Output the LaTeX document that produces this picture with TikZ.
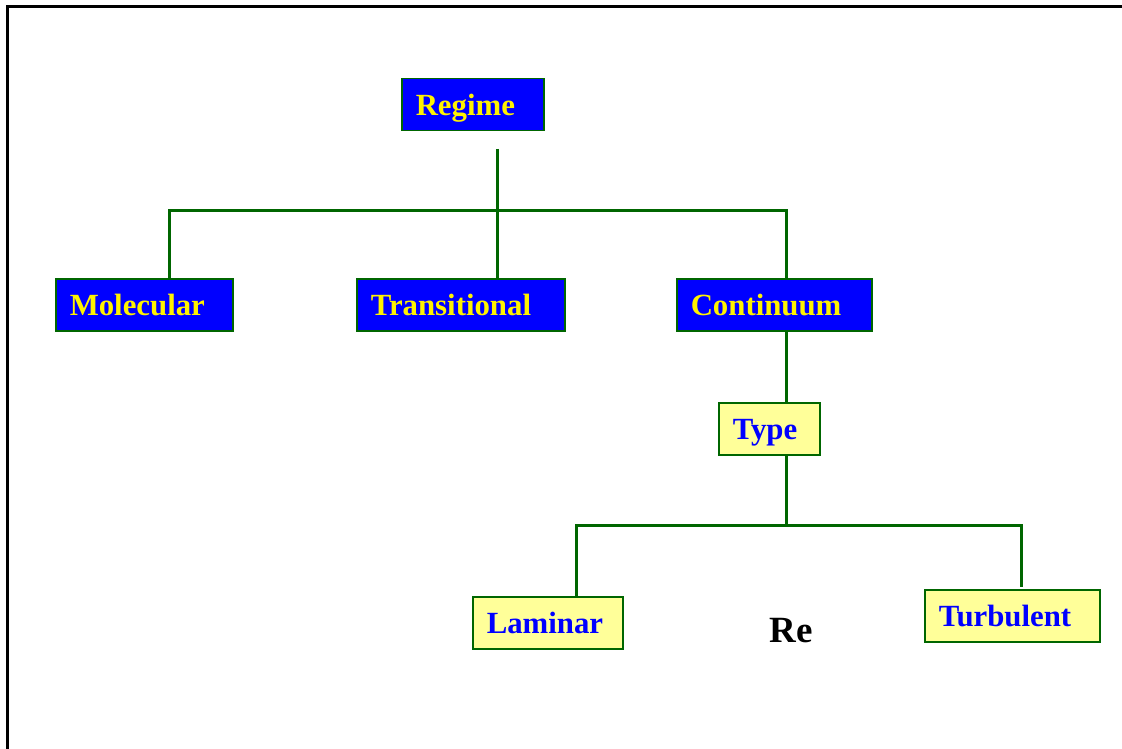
\documentclass[tikz,border=0pt]{standalone}
\usepackage{fontspec}
\setmainfont{Liberation Serif}
\usetikzlibrary{calc}
\definecolor{boxblue}{RGB}{0,0,255}
\definecolor{boxcream}{RGB}{255,255,153}
\definecolor{linegreen}{RGB}{0,102,0}
\tikzset{
	regimebox/.style={draw=linegreen, line width=1.5, fill=boxblue, text=yellow,
		anchor=north west, align=left, inner xsep=14, inner ysep=0,
		minimum height=52, text height=21, text depth=0,
		font=\fontsize{30.8}{36}\selectfont\bfseries},
	typebox/.style={regimebox, fill=boxcream, text=boxblue},
	branch/.style={draw=linegreen, line width=3}
}

\begin{document}
\begin{tikzpicture}[x=1pt, y=-1pt]
			%%%%% START %%%%%
			\useasboundingbox (0,0) rectangle (1122,749);
			\draw[line width=3] (7.5,749) -- (7.5,6.5) -- (1122,6.5);
			
			\node[regimebox, text width=114] (regime) at (401,78) {Regime};
			
			\node[regimebox, text width=149] (molecular) at (55,278) {Molecular};
			\node[regimebox, text width=180] (transitional) at (356,278) {Transitional};
			\node[regimebox, text width=167] (continuum) at (676,278) {Continuum};
			
			\node[typebox, text width=73] (type) at (718,402) {Type};
			
			\node[typebox, text width=122] (laminar) at (472,596) {Laminar};
			\node[typebox, text width=147] (turbulent) at (924,589) {Turbulent};
			
			\node[font=\fontsize{37}{42}\selectfont\bfseries, text height=25, text depth=0, inner sep=0] (re) at (791,630) {Re};
			
			\coordinate (rootdrop) at (497,149);
			\coordinate (leftend) at (169,210);
			\coordinate (rightend) at (786,210);
			\coordinate (lamend) at (576,525);
			\coordinate (turbend) at (1021,525);
			
			\draw[branch] (rootdrop) -- (rootdrop |- transitional.north);
			\draw[branch] (molecular.north -| leftend) -- (leftend) -- (rightend) -- (continuum.north -| rightend);
			\draw[branch] (continuum.south -| rightend) -- (type.north -| rightend);
			\draw[branch] (type.south -| rightend) -- (rightend |- lamend);
			\draw[branch] (laminar.north -| lamend) -- (lamend) -- (turbend) -- ($(turbulent.north -| turbend)+(0,-2)$);
			%%%%% END %%%%%
\end{tikzpicture}
\end{document}
